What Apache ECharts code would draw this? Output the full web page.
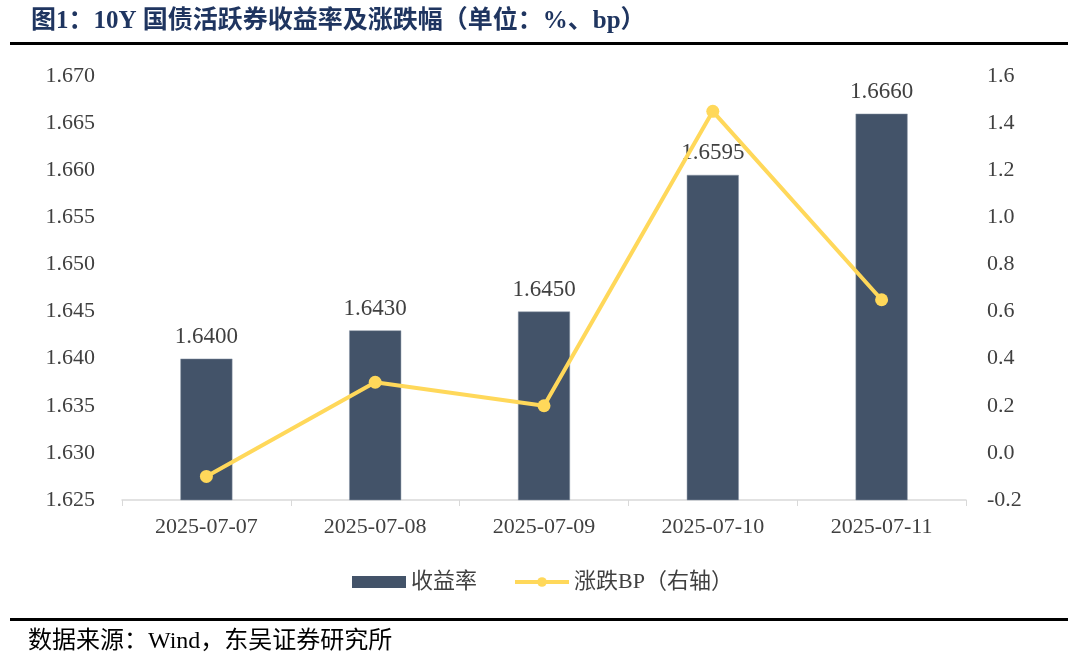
<!DOCTYPE html>
<html><head><meta charset="utf-8">
<script src="https://cdn.jsdelivr.net/npm/echarts@6/dist/echarts.min.js"></script>
<style>html,body{margin:0;padding:0;background:#fff}#c{width:1080px;height:667px}</style>
</head><body><div id="c"></div>
<script>
const categories = ['2025-07-07','2025-07-08','2025-07-09','2025-07-10','2025-07-11'];
const yieldValues = [1.6400, 1.6430, 1.6450, 1.6595, 1.6660];
const changeBP = [-0.1, 0.3, 0.2, 1.45, 0.65];
const leftTicks = {min:1.625, max:1.670, interval:0.005};
const rightTicks = {min:-0.2, max:1.6, interval:0.2};

const serif = '"Liberation Serif","Times New Roman","Noto Sans CJK SC",serif';
const chart = echarts.init(document.getElementById('c'));
chart.setOption({
  backgroundColor:'#fff',
  animation:false,
  title:{text:'图1：10Y 国债活跃券收益率及涨跌幅（单位：%、bp）', left:26, top:4,
    textStyle:{fontFamily:serif, fontSize:25, fontWeight:'bold', color:'#1f3560'}},
  graphic:[
    {type:'rect', shape:{x:10,y:42,width:1058,height:3}, style:{fill:'#000'}},
    {type:'rect', shape:{x:10,y:618,width:1058,height:3}, style:{fill:'#000'}},
    {type:'text', left:28, top:630, style:{text:'数据来源：Wind，东吴证券研究所', font:'24px '+serif, fill:'#000'}}
  ],
  legend:{top:566, left:347, itemGap:36, itemWidth:54, itemHeight:12,
    textStyle:{fontFamily:serif, fontSize:22, color:'#404040'},
    data:[{name:'收益率', icon:'rect', itemStyle:{borderWidth:0}},
          {name:'涨跌BP（右轴）', lineStyle:{width:4, color:'#ffd85a'}, itemStyle:{color:'#ffd85a'}}]},
  grid:{left:122, right:114, top:76, bottom:167},
  xAxis:{type:'category', data:categories, boundaryGap:true,
    axisLine:{onZero:false, lineStyle:{color:'#d9d9d9', width:1.5}},
    axisTick:{show:true, length:6, lineStyle:{color:'#d9d9d9'}},
    axisLabel:{fontFamily:serif, fontSize:22, color:'#404040', margin:16}},
  yAxis:[
    {type:'value', min:leftTicks.min, max:leftTicks.max, interval:leftTicks.interval,
      splitLine:{show:false}, axisLine:{show:false}, axisTick:{show:false},
      axisLabel:{fontFamily:serif, fontSize:22, color:'#404040', margin:27, formatter:v=>v.toFixed(3)}},
    {type:'value', min:rightTicks.min, max:rightTicks.max, interval:rightTicks.interval,
      splitLine:{show:false}, axisLine:{show:false}, axisTick:{show:false},
      axisLabel:{fontFamily:serif, fontSize:22, color:'#404040', margin:21, formatter:v=>v.toFixed(1)}}
  ],
  series:[
    {name:'收益率', type:'bar', data:yieldValues, barWidth:52, yAxisIndex:0,
      itemStyle:{color:'#435369', borderColor:'#8a96a6', borderWidth:0.5},
      label:{show:true, position:'top', distance:10, fontFamily:serif, fontSize:23, color:'#404040', formatter:p=>p.value.toFixed(4)}},
    {name:'涨跌BP（右轴）', type:'line', data:changeBP, yAxisIndex:1,
      symbol:'circle', symbolSize:13,
      lineStyle:{color:'#ffd85a', width:4}, itemStyle:{color:'#ffd85a'}}
  ]
});
</script></body></html>
